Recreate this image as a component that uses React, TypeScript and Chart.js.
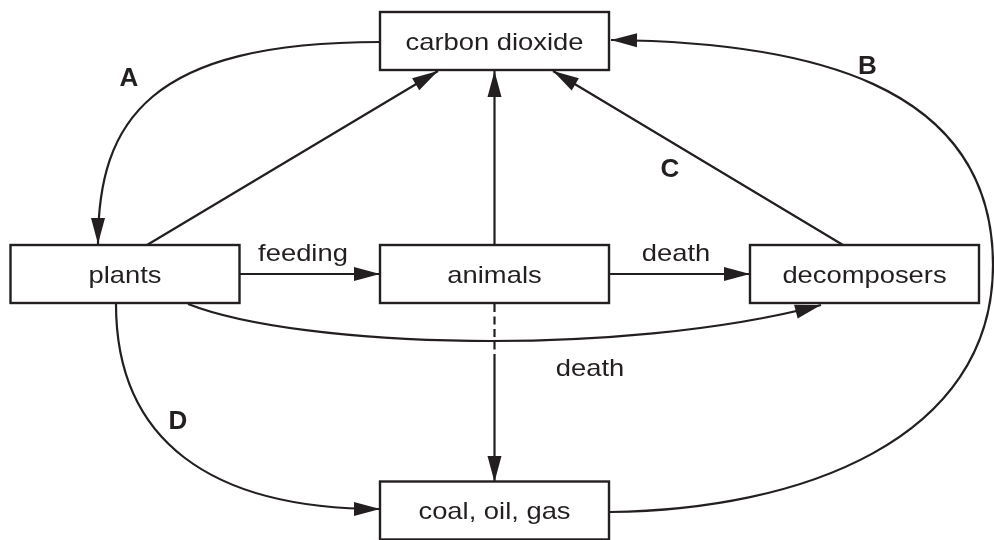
import React, { useEffect, useRef } from "react";
import { Chart, registerables } from "chart.js";

Chart.register(...registerables);

// ---- diagram data (in diagram units: x 0..994, y 0..540, y downwards) ----
const nodeNames = ["carbon dioxide", "plants", "animals", "decomposers", "coal, oil, gas"];
const nodeX = [494.5, 125, 494.5, 864.5, 494.5];
const nodeY = [41, 274, 274, 274, 510.5];

// arrows: point lists (2 points = straight line, otherwise chained cubic beziers)
const flowPaths: number[][][] = [
  [[380, 42], [150, 42], [98, 120], [98, 244]], // A: CO2 -> plants
  [[147, 245], [438, 71]], // plants -> CO2
  [[494.5, 245], [494.5, 71]], // animals -> CO2
  [[843, 245], [553, 71]], // decomposers -> CO2 (C)
  [[610, 512], [800, 510], [993, 440], [993, 265], [993, 80], [800, 42], [611, 40]], // B
  [[239, 274], [380, 274]], // feeding
  [[609, 274], [750, 274]], // death
  [[188, 304], [300, 348], [620, 358], [821, 305]], // plants -> decomposers (death)
  [[494.5, 362], [494.5, 482]], // animals -> coal (solid part)
  [[116, 304], [116, 440], [210, 509], [380, 509]], // D: plants -> coal
];
const flowArrow = [true, true, true, true, true, true, true, true, true, true];
const dashedPaths: number[][][] = [[[494.5, 304], [494.5, 362]]];

const letterTexts = ["A", "B", "C", "D"];
const letterX = [129, 867.5, 670, 178];
const letterY = [77.5, 66, 169, 421];

const edgeTexts = ["feeding", "death", "death"];
const edgeTextX = [303, 676, 590];
const edgeTextY = [261, 261, 376];

// ---- styles ----
const INK = "#231f20";
const BOX_W = 229;
const BOX_H = 58;
const FONT = '"Liberation Sans", Arial, Helvetica, sans-serif';
const TEXT_STRETCH = 1.14;

const diagramPlugin = {
  id: "diagram",
  afterDraw(chart: any) {
    const ctx: CanvasRenderingContext2D = chart.ctx;
    const xs = chart.scales.x;
    const ys = chart.scales.y;
    const px = (v: number) => xs.getPixelForValue(v);
    const py = (v: number) => ys.getPixelForValue(v);
    ctx.save();
    ctx.strokeStyle = INK;
    ctx.fillStyle = INK;
    ctx.lineWidth = 2.2;
    ctx.lineJoin = "miter";

    const drawPath = (pts: number[][]) => {
      ctx.beginPath();
      ctx.moveTo(px(pts[0][0]), py(pts[0][1]));
      if (pts.length === 2) {
        ctx.lineTo(px(pts[1][0]), py(pts[1][1]));
      } else {
        for (let i = 1; i + 2 < pts.length; i += 3) {
          ctx.bezierCurveTo(
            px(pts[i][0]), py(pts[i][1]),
            px(pts[i + 1][0]), py(pts[i + 1][1]),
            px(pts[i + 2][0]), py(pts[i + 2][1])
          );
        }
      }
      ctx.stroke();
    };

    const drawHead = (pts: number[][]) => {
      const n = pts.length;
      const tx = px(pts[n - 1][0]);
      const ty = py(pts[n - 1][1]);
      const fx = px(pts[n - 2][0]);
      const fy = py(pts[n - 2][1]);
      const ang = Math.atan2(ty - fy, tx - fx);
      const L = 26;
      const W = 7;
      ctx.beginPath();
      ctx.moveTo(tx, ty);
      ctx.lineTo(tx - L * Math.cos(ang) + W * Math.sin(ang), ty - L * Math.sin(ang) - W * Math.cos(ang));
      ctx.lineTo(tx - L * Math.cos(ang) - W * Math.sin(ang), ty - L * Math.sin(ang) + W * Math.cos(ang));
      ctx.closePath();
      ctx.fill();
    };

    flowPaths.forEach((pts, i) => {
      drawPath(pts);
      if (flowArrow[i]) drawHead(pts);
    });

    ctx.save();
    ctx.setLineDash([8, 4.5]);
    dashedPaths.forEach((pts) => drawPath(pts));
    ctx.restore();

    // boxes
    nodeNames.forEach((name, i) => {
      const x0 = px(nodeX[i] - BOX_W / 2);
      const x1 = px(nodeX[i] + BOX_W / 2);
      const y0 = py(nodeY[i] - BOX_H / 2);
      const y1 = py(nodeY[i] + BOX_H / 2);
      ctx.fillStyle = "#ffffff";
      ctx.fillRect(x0, y0, x1 - x0, y1 - y0);
      ctx.strokeStyle = INK;
      ctx.lineWidth = 2.4;
      ctx.strokeRect(x0, y0, x1 - x0, y1 - y0);
    });

    const stretchText = (t: string, x: number, y: number) => {
      ctx.save();
      ctx.translate(x, y);
      ctx.scale(TEXT_STRETCH, 1);
      ctx.fillText(t, 0, 0);
      ctx.restore();
    };

    ctx.fillStyle = INK;
    ctx.textAlign = "center";
    ctx.textBaseline = "alphabetic";
    ctx.font = `24px ${FONT}`;
    nodeNames.forEach((name, i) => {
      stretchText(name, px(nodeX[i]), py(nodeY[i] + 8.5));
    });
    edgeTexts.forEach((t, i) => {
      stretchText(t, px(edgeTextX[i]), py(edgeTextY[i]));
    });

    ctx.font = `bold 26px ${FONT}`;
    ctx.textBaseline = "middle";
    letterTexts.forEach((t, i) => {
      ctx.fillText(t, px(letterX[i]), py(letterY[i]) + 1);
    });
    ctx.restore();
  },
};

export default function App() {
  const canvasRef = useRef<HTMLCanvasElement | null>(null);

  useEffect(() => {
    document.body.style.margin = "0";
    const canvas = canvasRef.current;
    if (!canvas) return;
    const chart = new Chart(canvas, {
      type: "scatter",
      data: {
        datasets: [
          {
            label: "nodes",
            data: nodeX.map((x, i) => ({ x, y: nodeY[i] })),
            pointRadius: 0,
            pointHoverRadius: 0,
          },
        ],
      },
      options: {
        animation: false,
        responsive: true,
        maintainAspectRatio: false,
        layout: { padding: 0 },
        events: [],
        plugins: { legend: { display: false }, tooltip: { enabled: false } },
        scales: {
          x: { type: "linear", min: 0, max: 994, display: false },
          y: { type: "linear", min: 0, max: 540, reverse: true, display: false },
        },
      },
      plugins: [diagramPlugin],
    });
    return () => chart.destroy();
  }, []);

  return (
    <div style={{ width: 994, height: 540, position: "relative", background: "#ffffff" }}>
      <canvas ref={canvasRef} />
    </div>
  );
}
